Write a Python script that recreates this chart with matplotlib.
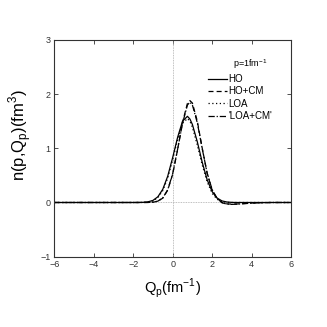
import matplotlib
matplotlib.use('Agg')
import matplotlib.pyplot as plt

# momentum grid, fm^-1
q_p = [-6, -4, -3, -2.5, -2, -1.75, -1.5, -1.25, -1, -0.75, -0.5, -0.25, 0, 0.25,
       0.5, 0.75, 0.875, 1, 1.25, 1.5, 1.75, 2, 2.25, 2.5, 2.75, 3, 3.25, 3.5,
       4, 4.5, 5, 6]

n_ho = [0, 0, 0, 0, 0.0001, 0.0007, 0.003, 0.012, 0.038, 0.105, 0.244, 0.486,
        0.828, 1.20, 1.50, 1.59, 1.54, 1.44, 1.12, 0.74, 0.418, 0.202, 0.083,
        0.029, 0.009, 0.002, 0, 0, 0, 0, 0, 0]
n_ho_cm = [0, 0, 0, 0, 0, 0, 0.0001, 0.001, 0.005, 0.023, 0.081, 0.228, 0.52,
           0.976, 1.48, 1.83, 1.88, 1.835, 1.50, 1.00, 0.535, 0.23, 0.07, 0.0,
           -0.025, -0.03, -0.028, -0.022, -0.01, -0.004, 0, 0]
n_loa = [0, 0, 0, 0, 0, 0.0005, 0.002, 0.009, 0.03, 0.09, 0.22, 0.45, 0.79,
         1.16, 1.46, 1.55, 1.50, 1.39, 1.06, 0.69, 0.38, 0.17, 0.06, 0.015,
         0.002, 0, 0, 0, 0, 0, 0, 0]
n_loa_cm = [0, 0, 0, 0, 0, 0, 0, 0.001, 0.006, 0.025, 0.085, 0.235, 0.53,
            0.98, 1.46, 1.80, 1.85, 1.80, 1.47, 0.99, 0.54, 0.24, 0.075, -0.005,
            -0.03, -0.035, -0.03, -0.025, -0.012, -0.005, 0, 0]

labels = ['HO', 'HO+CM', 'LOA', "'LOA+CM'"]
legend_title = r'p=1fm$^\mathregular{-1}$'
xticks = [-6, -4, -2, 0, 2, 4, 6]
yticks = [-1, 0, 1, 2, 3]

plt.rcParams['font.family'] = ['Liberation Sans Narrow', 'Liberation Sans', 'DejaVu Sans']

fig = plt.figure(figsize=(3.27, 3.27), dpi=100)
ax = fig.add_axes([0.166, 0.215, 0.724, 0.663])

ax.axhline(0, color='#aaaaaa', lw=0.6, ls=(0, (1, 1)))
ax.axvline(0, color='#aaaaaa', lw=0.6, ls=(0, (1, 1)))

ax.plot(q_p, n_ho, color='black', lw=0.9, ls='-', label=labels[0])
ax.plot(q_p, n_ho_cm, color='black', lw=0.9, ls=(0, (4, 2.5)), label=labels[1])
ax.plot(q_p, n_loa, color='black', lw=0.9, ls=(0, (1, 2)), label=labels[2])
ax.plot(q_p, n_loa_cm, color='black', lw=0.9, ls=(0, (5, 1.5, 1, 1.5)), label=labels[3])

ax.set_xlim(-6, 6)
ax.set_ylim(-1, 3)
ax.set_xticks(xticks)
ax.set_yticks(yticks)
ax.tick_params(direction='in', length=3, width=0.6, top=True, right=True,
               labelsize=6.5, colors='#333333', pad=2.5)
for s in ax.spines.values():
    s.set_linewidth(0.8)
    s.set_color('#333333')

ax.set_xlabel(r'Q$_\mathregular{p}$(fm$^\mathregular{-1}$)', fontsize=10.5, labelpad=5)
ax.set_ylabel(r'n(p,Q$_\mathregular{p}$)(fm$^\mathregular{3}$)', fontsize=12)
ax.yaxis.set_label_coords(-0.086, 0.56)

leg = ax.legend(loc='upper left', bbox_to_anchor=(0.649, 0.843), frameon=False,
                fontsize=7, handlelength=2.0, handletextpad=0.1,
                labelspacing=0.25, borderpad=0.0, borderaxespad=0.0)
ax.text(0.755, 0.89, legend_title, transform=ax.transAxes, fontsize=6.5,
        ha='left', va='center')

fig.savefig('out.png', dpi=100)
